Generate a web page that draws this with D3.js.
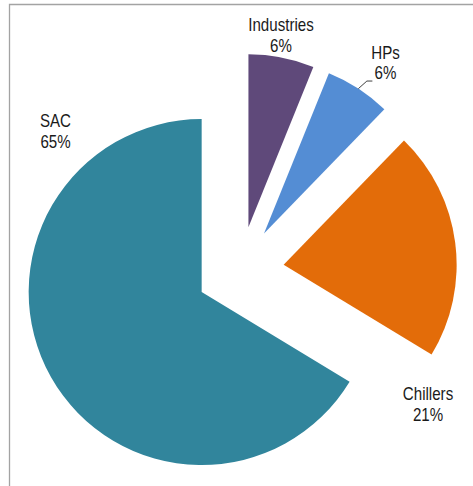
<!DOCTYPE html>
<html>
<head>
<meta charset="utf-8">
<script src="https://cdn.jsdelivr.net/npm/d3@7"></script>
<style>
  html, body { margin: 0; padding: 0; background: #ffffff; }
  svg { display: block; }
  text { font-family: "Liberation Sans", Arial, sans-serif; fill: #1a1a1a; }
</style>
</head>
<body>
<svg id="chart" width="473" height="486"></svg>
<script>
const categories = ["Industries", "HPs", "Chillers", "SAC"];
const values = [6, 6, 21, 65];
const valueLabels = ["6%", "6%", "21%", "65%"];
const colors = ["#5F497A", "#548DD4", "#E36C09", "#31859C"];

// layout (kept separate from data)
const W = 473, H = 486;
const cx = 240, cy = 270.5, R = 173, explode = 44;
const labelPos = [[281, 31], [385.5, 58.5], [428, 400], [55.5, 127]];
const lineGap = 21;
const squeeze = 0.84;

const svg = d3.select("#chart");

// frame (partially visible plot border)
svg.append("path")
  .attr("d", `M9.5,${H} L9.5,4.5 L${W},4.5`)
  .attr("fill", "none")
  .attr("stroke", "#a3a3a3")
  .attr("stroke-width", 1.3);

const data = categories.map((c, i) => ({ name: c, value: values[i], label: valueLabels[i], color: colors[i], i }));

const pie = d3.pie().sort(null).value(d => d.value).startAngle(0).endAngle(2 * Math.PI);
const arcs = pie(data);
const arc = d3.arc().innerRadius(0).outerRadius(R);

const g = svg.append("g").attr("transform", `translate(${cx},${cy})`);

function offset(a) {
  const mid = (a.startAngle + a.endAngle) / 2;
  return [Math.sin(mid) * explode, -Math.cos(mid) * explode];
}

g.selectAll("path.slice")
  .data(arcs)
  .join("path")
  .attr("class", "slice")
  .attr("d", arc)
  .attr("fill", d => d.data.color)
  .attr("transform", d => { const o = offset(d); return `translate(${o[0]},${o[1]})`; });

// leader line for HPs
const hp = arcs[1];
const hpo = offset(hp);
const hmid = (hp.startAngle + hp.endAngle) / 2;
const p0 = [cx + hpo[0] + Math.sin(hmid) * R, cy + hpo[1] - Math.cos(hmid) * R];
const p1 = [p0[0] + 8.5, p0[1] - 7.6];
const p2 = [p1[0] + 5.5, p1[1]];
svg.append("path")
  .attr("d", d3.line()([p0, p1, p2]))
  .attr("fill", "none")
  .attr("stroke", "#404040")
  .attr("stroke-width", 1);

// labels
const lbl = svg.selectAll("g.lbl")
  .data(data)
  .join("g")
  .attr("class", "lbl")
  .attr("transform", d => `translate(${labelPos[d.i][0]},${labelPos[d.i][1]}) scale(${squeeze},1)`);

lbl.append("text")
  .attr("text-anchor", "middle")
  .attr("font-size", 18)
  .text(d => d.name);
lbl.append("text")
  .attr("text-anchor", "middle")
  .attr("font-size", 18)
  .attr("y", lineGap)
  .text(d => d.label);
</script>
</body>
</html>
